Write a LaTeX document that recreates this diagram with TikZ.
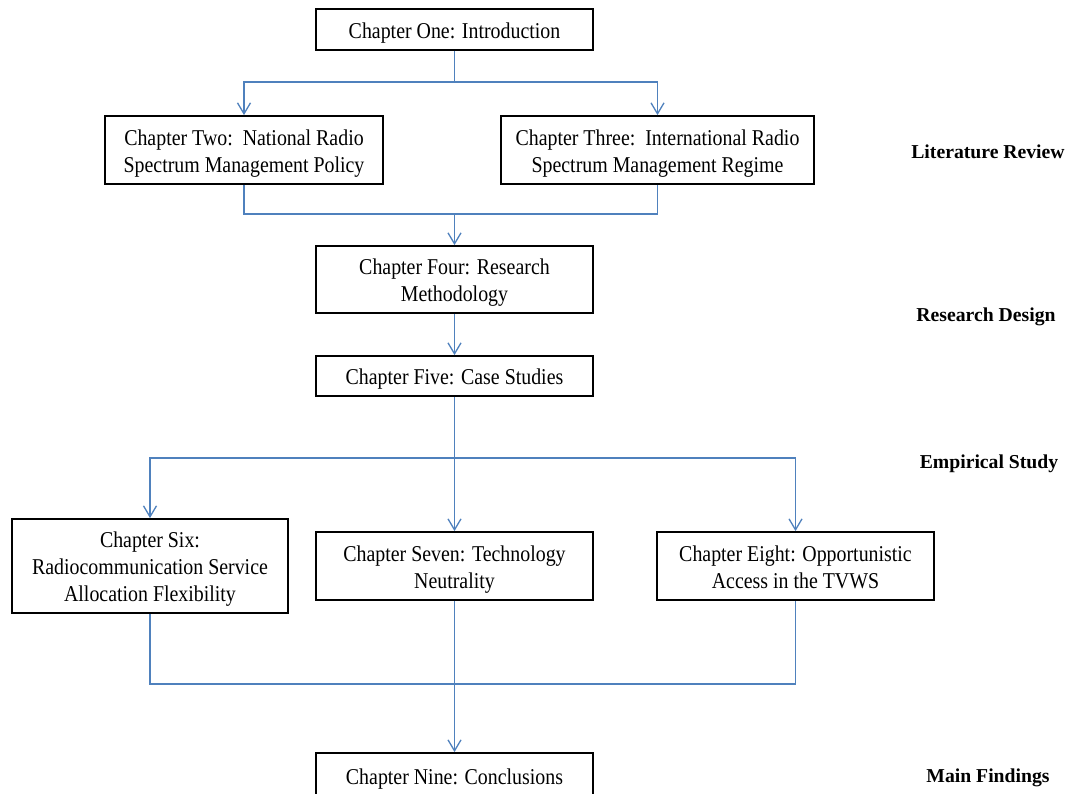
\documentclass[tikz,border=0pt]{standalone}
\usepackage{fontspec}
\setmainfont{Liberation Serif}[FakeStretch=0.88]
\newfontfamily\labelfont{Liberation Serif}
\usetikzlibrary{arrows.meta}
\definecolor{linkblue}{RGB}{79,129,189}
% chapter text, set a little low in its box without changing the box size
\newcommand\chaptext[1]{\raisebox{-3.5pt}[\height][\depth]{\begin{tabular}{@{}c@{}}#1\end{tabular}}}
\tikzset{
  chapbox/.style={draw=black, line width=1.8pt, fill=white, inner sep=0pt,
    font=\fontsize{22.6}{27}\selectfont},
  conn/.style={draw=linkblue, line width=1.8pt},
  arr/.style={conn, -{Straight Barb[length=11pt,width=13pt,line width=1.3pt]}},
  partlabel/.style={font=\labelfont\bfseries\fontsize{19.7}{23}\selectfont, inner sep=0pt}
}
\begin{document}
\begin{tikzpicture}[x=1pt,y=-1pt]
\useasboundingbox (0,0) rectangle (1071,793);
\fill[white] (0,0) rectangle (1071,793);

% chapter boxes
\node[chapbox, minimum width=277pt, minimum height=41pt] (one) at (454.5,29.5) {\chaptext{Chapter One: Introduction}};
\node[chapbox, minimum width=278pt, minimum height=68pt] (two) at (244,150) {\chaptext{Chapter Two:\ \ National Radio\\Spectrum Management Policy}};
\node[chapbox, minimum width=313pt, minimum height=68pt] (three) at (657.5,150) {\chaptext{Chapter Three:\ \ International Radio\\Spectrum Management Regime}};
\node[chapbox, minimum width=277pt, minimum height=67pt] (four) at (454.5,279.5) {\chaptext{Chapter Four: Research\\Methodology}};
\node[chapbox, minimum width=277pt, minimum height=40pt] (five) at (454.5,376) {\chaptext{Chapter Five: Case Studies}};
\node[chapbox, minimum width=276pt, minimum height=94pt] (six) at (150,566) {\chaptext{Chapter Six:\\Radiocommunication Service\\Allocation Flexibility}};
\node[chapbox, minimum width=277pt, minimum height=68pt] (seven) at (454.5,566) {\chaptext{Chapter Seven: Technology\\Neutrality}};
\node[chapbox, minimum width=277pt, minimum height=68pt] (eight) at (795.5,566) {\chaptext{Chapter Eight: Opportunistic\\Access in the TVWS}};
\node[chapbox, minimum width=277pt, minimum height=46pt] (nine) at (454.5,776) {\chaptext{Chapter Nine: Conclusions}};

% part labels
\node[partlabel] (lit) at (988,152) {Literature Review};
\node[partlabel] (des) at (986,317) {Research Design};
\node[partlabel] (emp) at (989,464) {Empirical Study};
\node[partlabel] (fin) at (988,778) {Main Findings};

% junction points
\coordinate (split1) at (454.5,82);
\coordinate (merge1) at (454.5,214);
\coordinate (split2) at (454.5,458);
\coordinate (merge2) at (454.5,684);

% connectors
\draw[conn] (one.south) -- (split1);
\draw[arr] (split1) -| (two.north);
\draw[arr] (split1) -| (three.north);

\draw[conn] (two.south) |- (merge1) -| (three.south);
\draw[arr] (merge1) -- (four.north);

\draw[arr] (four.south) -- (five.north);

\draw[conn] (five.south) -- (split2);
\draw[arr] (split2) -| (six.north);
\draw[arr] (split2) -- (seven.north);
\draw[arr] (split2) -| (eight.north);

\draw[conn] (six.south) |- (merge2) -| (eight.south);
\draw[arr] (seven.south) -- (nine.north);
\end{tikzpicture}
\end{document}
